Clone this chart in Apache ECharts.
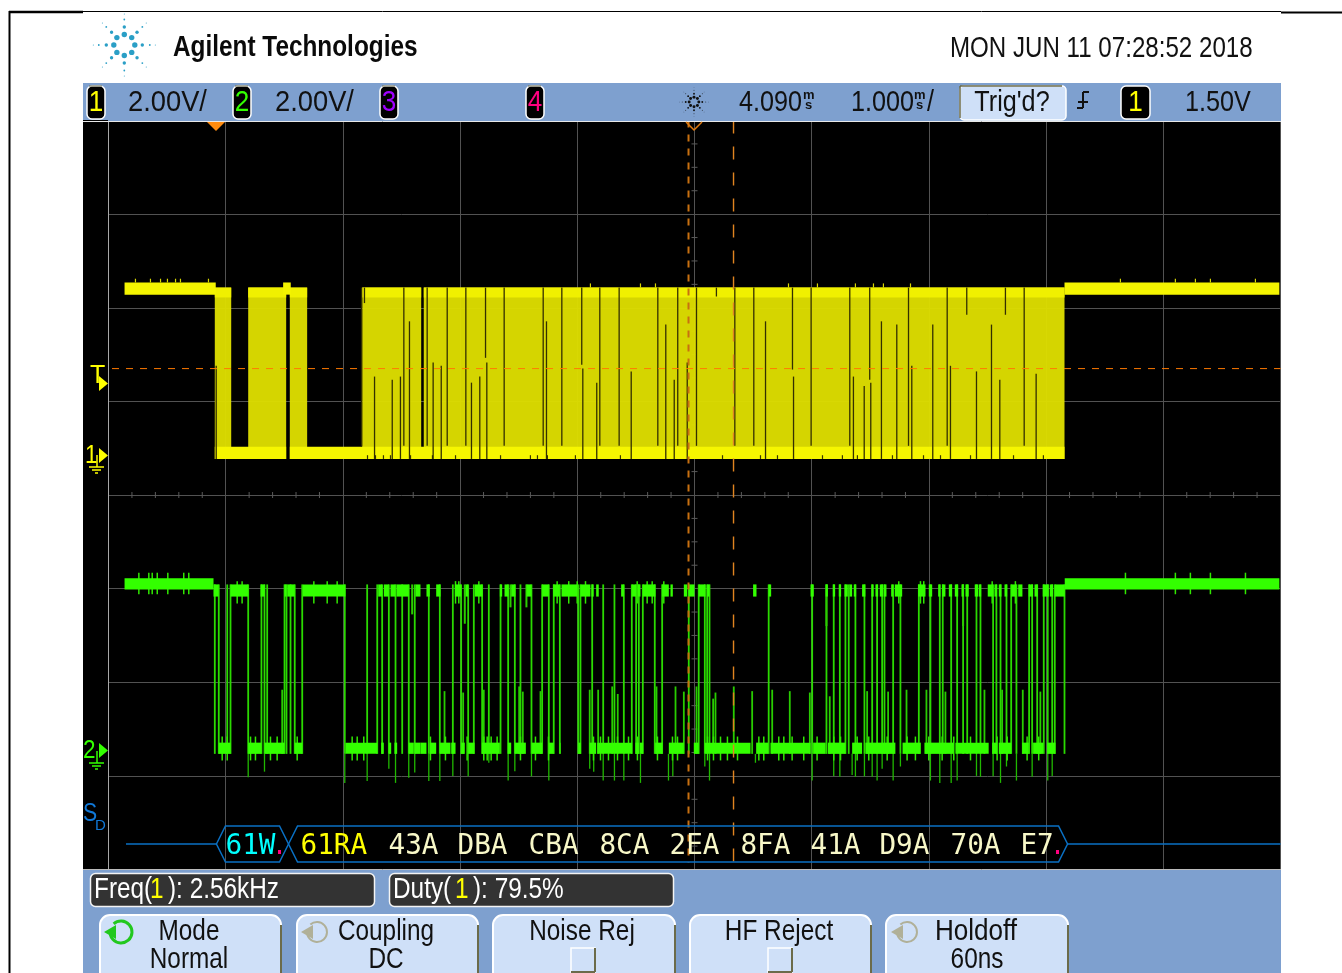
<!DOCTYPE html>
<html>
<head>
<meta charset="utf-8">
<title>Agilent scope capture</title>
<style>
html,body{margin:0;padding:0;background:#fff;}
#main{width:1342px;height:973px;}
</style>
<script src="https://cdn.jsdelivr.net/npm/echarts@6/dist/echarts.min.js"></script>
</head>
<body>
<div id="main"></div>
<script>
// all times are ms from the left edge of the screen, volts are per channel
var ch1PlateauSpans = [[0.137,0.915],[1.490,1.555],[8.157,9.990]];
var ch1BodySpans = [[0.907,1.047],[1.192,1.516],[1.547,1.695],[2.165,2.668],[2.690,8.157]];
var ch1LowSpans = [[0.907,1.516],[1.547,8.157]];
// dark gaps running the whole height of the burst
var ch1FullGaps = [2.159,2.520,2.719,2.890,3.049,3.376,3.709,3.868,4.192,4.357,4.687,4.857,5.017,5.344,5.506,5.995,6.325,6.826,7.156,7.813];
// [time, volts] hanging down from the top
var ch1HangGaps = [[2.184,3.20],[3.217,2.03],[4.038,1.88],[5.187,3.34],[5.836,1.78],[6.495,1.56],[7.323,2.95],[7.653,2.95]];
// [time, volts] rising from the bottom
var ch1RiseGaps = [[0.919,1.86],[2.270,1.63],[2.421,1.56],[2.491,1.63],[2.568,2.81],[2.770,1.93],[2.839,1.86],[3.097,1.50],[3.168,1.63],[3.228,1.93],[3.737,2.81],[4.047,1.80],[4.166,1.50],[4.460,1.74],[4.755,2.74],[4.827,1.56],[4.938,1.93],[5.606,2.81],[5.845,1.63],[6.356,1.63],[6.448,1.43],[6.504,1.50],[6.595,2.81],[6.726,2.74],[6.854,1.86],[7.033,2.74],[7.184,1.86],[7.406,1.74],[7.534,2.74],[7.605,1.56],[7.915,1.69]];
// small overshoots above the burst and the plateaus, notches under the low band
var ch1BurstSpikes = [4.112,4.539,4.667,5.802,6.049,6.373,6.527,6.612,6.843];
var ch1PlateauSpikes = [0.230,0.358,0.444,0.503,0.572,0.614,0.853,8.634,9.103,9.274,9.402,9.786];
var ch1LowNotches = [2.210,2.278,2.346,2.406,2.577,2.764,2.961,3.345,3.600,3.660,3.745,3.984,4.368,5.239,5.563,5.708,6.092,6.262,6.390,6.689,6.954,7.099,7.355,7.722,7.977];

var ch2PlateauSpans = [[0.137,0.896],[8.159,9.990]];
var ch2HighSpans = [[0.896,0.939],[1.041,1.192],[1.297,1.334],[1.502,1.519],[1.525,1.589],[1.658,2.022],[2.301,2.335],[2.349,2.392],[2.406,2.449],[2.457,2.562],[2.619,2.662],[2.713,2.741],[2.796,2.833],[2.955,3.009],[3.046,3.069],[3.125,3.191],[3.339,3.359],[3.379,3.413],[3.436,3.472],[3.566,3.609],[3.700,3.757],[3.794,3.851],[3.865,3.999],[4.027,4.112],[4.121,4.140],[4.161,4.183],[4.374,4.397],[4.465,4.502],[4.516,4.539],[4.559,4.667],[4.724,4.781],[4.795,4.815],[4.909,4.938],[4.951,5.000],[5.036,5.094],[5.108,5.128],[5.500,5.529],[5.633,5.654],[5.990,6.018],[6.119,6.138],[6.180,6.200],[6.231,6.251],[6.280,6.308],[6.322,6.345],[6.359,6.379],[6.430,6.458],[6.510,6.529],[6.544,6.567],[6.581,6.610],[6.615,6.638],[6.678,6.695],[6.709,6.772],[6.908,6.971],[6.999,7.028],[7.079,7.098],[7.113,7.141],[7.170,7.198],[7.221,7.250],[7.278,7.297],[7.312,7.340],[7.391,7.420],[7.425,7.446],[7.502,7.548],[7.559,7.582],[7.596,7.619],[7.645,7.668],[7.702,7.747],[7.762,7.798],[7.852,7.889],[7.901,7.929],[7.971,8.023],[8.031,8.060],[8.074,8.159]];
var ch2LowSpans = [[0.941,1.041],[1.192,1.305],[1.331,1.502],[1.589,1.653],[2.022,2.293],[2.327,2.349],[2.392,2.412],[2.440,2.463],[2.562,2.605],[2.611,2.662],[2.662,2.713],[2.741,2.796],[2.827,2.918],[2.924,2.961],[3.009,3.040],[3.069,3.123],[3.186,3.339],[3.407,3.436],[3.467,3.561],[3.609,3.700],[3.757,3.799],[3.851,3.857],[4.008,4.030],[4.104,4.161],[4.170,4.468],[4.496,4.525],[4.533,4.562],[4.664,4.727],[4.781,4.909],[4.994,5.036],[5.088,5.478],[5.526,5.629],[5.648,5.990],[6.012,6.119],[6.138,6.288],[6.345,6.430],[6.458,6.714],[6.775,6.931],[6.962,7.212],[7.226,7.510],[7.540,7.582],[7.596,7.702],[7.796,7.852],[7.889,7.975],[8.009,8.080]];
var ch2FullEdges = [0.907,0.941,1.013,1.041,1.192,1.305,1.331,1.354,1.502,1.519,1.553,1.589,1.653,2.016,2.207,2.293,2.335,2.392,2.449,2.506,2.562,2.613,2.733,2.827,2.938,3.009,3.069,3.117,3.188,3.245,3.345,3.410,3.467,3.515,3.609,3.700,3.757,3.799,3.851,4.008,4.027,4.127,4.221,4.317,4.397,4.465,4.502,4.525,4.559,4.661,4.724,4.951,5.036,5.088,5.108,5.128,5.633,6.004,6.126,6.188,6.240,6.288,6.316,6.373,6.450,6.516,6.558,6.601,6.621,6.695,6.757,6.914,7.013,7.093,7.118,7.190,7.241,7.292,7.327,7.406,7.440,7.548,7.576,7.611,7.662,7.702,7.747,7.855,7.881,7.924,7.980,8.014,8.052,8.074,8.157];
// [time, volts] undershoot below the low band
var ch2Dips = [[1.192,-0.63],[1.331,-0.51],[2.016,-0.75],[2.207,-0.71],[2.392,-0.45],[2.449,-0.75],[2.562,-0.64],[2.613,-0.53],[2.733,-0.71],[2.827,-0.71],[2.938,-0.60],[3.069,-0.61],[3.245,-0.32],[3.410,-0.70],[3.467,-0.50],[3.609,-0.61],[3.757,-0.70],[4.106,-0.45],[4.140,-0.51],[4.221,-0.70],[4.317,-0.70],[4.397,-0.70],[4.539,-0.75],[4.778,-0.70],[4.815,-0.61],[5.088,-0.40],[5.128,-0.70],[5.520,-0.32],[6.004,-0.70],[6.188,-0.60],[6.240,-0.62],[6.345,-0.58],[6.373,-0.62],[6.450,-0.61],[6.516,-0.62],[6.558,-0.70],[6.601,-0.45],[6.695,-0.70],[6.757,-0.40],[7.013,-0.70],[7.093,-0.75],[7.190,-0.75],[7.241,-0.70],[7.406,-0.60],[7.440,-0.62],[7.548,-0.61],[7.611,-0.75],[7.662,-0.40],[7.747,-0.70],[7.881,-0.62],[8.014,-0.70],[8.052,-0.60]];
// [time, volts] runts that only get part way up
var ch2Runts = [[1.482,1.24],[2.867,1.21],[3.026,1.18],[3.202,1.24],[3.504,1.31],[3.535,1.20],[3.686,1.21],[4.106,1.24],[4.178,1.24],[4.298,1.31],[4.345,1.15],[4.676,1.31],[4.838,1.31],[4.909,1.20],[5.017,1.31],[5.159,1.05],[5.179,1.18],[5.335,1.31],[5.492,1.21],[5.663,1.24],[5.813,1.21],[5.984,1.18],[6.154,1.10],[6.473,1.21],[6.652,1.20],[6.809,1.24],[6.979,1.24],[7.141,1.20],[7.474,1.24],[7.625,1.24],[7.801,1.24],[7.951,1.20]];
// [time, volts] pulled down from the high band
var ch2Sags = [[2.591,2.85],[3.040,2.65],[3.430,3.00],[3.566,3.00],[6.126,2.60],[7.292,2.60]];
// band fuzz
var ch2LowFuzz = [0.970,1.013,1.212,1.254,1.382,1.439,1.610,2.079,2.122,2.178,2.747,2.875,3.060,3.202,3.231,3.265,3.316,3.515,3.643,3.754,4.138,4.198,4.266,4.343,4.437,4.513,4.684,4.812,4.855,5.111,5.162,5.222,5.281,5.367,5.549,5.591,5.719,5.762,5.833,5.932,6.046,6.188,6.246,6.388,6.487,6.644,6.814,6.885,6.999,7.113,7.212,7.355,7.582,7.668,7.838,7.937];
var ch2HighFuzz = [1.098,1.140,1.752,1.866,1.951,2.961,2.989,3.160,3.828,3.927,3.999,4.070,4.511,4.596,4.639,4.738,6.743,6.928,6.956,7.540,7.738];
var ch2PlateauFuzz = [0.259,0.344,0.373,0.416,0.506,0.642,0.685,8.677,9.103,9.231,9.402,9.701];

// levels
var ch1Top = 3.53, ch1TopBand = 3.32, ch1LowTop = 0.13, ch1LowBottom = -0.13, ch1PlateauHi = 3.64, ch1PlateauLo = 3.38;
var ch2HighHi = 3.49, ch2HighLo = 3.23, ch2LowHi = 0.11, ch2LowLo = -0.13, ch2PlateauHi = 3.62, ch2PlateauLo = 3.38;
var trigLineVolts = 1.80;
var trigLineSpan = [0.03, 10];
var cursorTimes = [4.949,5.333];
var decodeWords = ['61W','61RA','43A','DBA','CBA','8CA','2EA','8FA','41A','D9A','70A','E7'];
var decodeStarts = [0.998,1.638,2.389,2.978,3.584,4.189,4.787,5.392,5.990,6.578,7.184,7.781];
var decodeColors = ['#00ffff','#ffff00','#f8f8c8','#f8f8c8','#f8f8c8','#f8f8c8','#f8f8c8','#f8f8c8','#f8f8c8','#f8f8c8','#f8f8c8','#f8f8c8'];
var decodeFrames = [[0.921,1.536],[1.536,8.183]];
var busTails = [[0.149,0.921],[8.183,10]];
var busLevel = 0.272;

var NARROW = '"Liberation Sans",sans-serif';
var BLUE = '#7ea0cf';
var KEY = '#cfe0f8';
var OLIVE = '#6b6b4a';

function spans(list, lo, hi) {
	return list.map(function (s) { return [s[0], s[1], lo, hi]; });
}
function ticks(list, lo, hi) {
	return list.map(function (t) { return [t, lo, hi]; });
}
function bands(name, rows, color, axis, z) {
	return {
		name: name, type: 'custom', xAxisIndex: 0, yAxisIndex: axis, z: z, silent: true, animation: false,
		encode: { x: [0, 1], y: [2, 3] },
		data: rows,
		renderItem: function (p, api) {
			var a = api.coord([api.value(0), api.value(3)]);
			var b = api.coord([api.value(1), api.value(2)]);
			return { type: 'rect', shape: { x: a[0], y: a[1], width: b[0] - a[0], height: b[1] - a[1] }, style: { fill: color } };
		}
	};
}
function lines(name, rows, color, width, axis, z, dash) {
	return {
		name: name, type: 'custom', xAxisIndex: 0, yAxisIndex: axis, z: z, silent: true, animation: false,
		encode: { x: 0, y: [1, 2] },
		data: rows,
		renderItem: function (p, api) {
			var a = api.coord([api.value(0), api.value(2)]);
			var b = api.coord([api.value(0), api.value(1)]);
			return { type: 'line', shape: { x1: a[0], y1: a[1], x2: b[0], y2: b[1] }, style: { stroke: color, lineWidth: width, lineDash: dash || null } };
		}
	};
}
function hline(name, span, level, color, width, axis, z, dash) {
	return {
		name: name, type: 'custom', xAxisIndex: 0, yAxisIndex: axis, z: z, silent: true, animation: false,
		data: span,
		renderItem: function (p, api) {
			var a = api.coord([api.value(0), level]);
			var b = api.coord([api.value(1), level]);
			return { type: 'line', shape: { x1: a[0], y1: a[1], x2: b[0], y2: b[1] }, style: { stroke: color, lineWidth: width, lineDash: dash || null } };
		}
	};
}

// centre graticule ticks
var xTickRows = [], yTickRows = [];
for (var i = 0; i <= 50; i++) { if (i % 5) xTickRows.push([i / 5, 4]); }
for (var j = 0; j <= 32; j++) { if (j % 4) yTickRows.push([5, j / 4]); }

// ---- chrome helpers, pixel layout of the instrument screen
function txt(s, x, y, size, color, align, bold, sx) {
	// big text sits a little high in this font
	return {
		type: 'text', z: 102, silent: true, x: x, y: size >= 29 ? y + 2 : y, scaleX: sx || 0.84,
		style: { text: s, x: 0, y: 0, font: (bold ? 'bold ' : '') + size + 'px ' + NARROW, fill: color || '#111', align: align || 'left', verticalAlign: 'middle' }
	};
}
function box(x, y, w, h, fill, r, stroke, lw) {
	return { type: 'rect', z: 99, silent: true, shape: { x: x, y: y, width: w, height: h, r: r || 0 }, style: { fill: fill, stroke: stroke || null, lineWidth: lw || 1 } };
}
function seg(x1, y1, x2, y2, color, lw) {
	return { type: 'line', z: 100, silent: true, shape: { x1: x1, y1: y1, x2: x2, y2: y2 }, style: { stroke: color, lineWidth: lw || 1 } };
}
function tri(points, fill, stroke) {
	return { type: 'polygon', z: 101, silent: true, shape: { points: points }, style: { fill: fill, stroke: stroke || null } };
}
function badge(x, w, label, color) {
	return [box(x, 86, w, 33, '#000', 5, '#fff', 1.5), seg(x + 2, 86, x + w - 3, 86, OLIVE, 1), txt(label, x + w / 2, 101, 29, color, 'center', false, 0.9)];
}
function softKey(x, w) {
	return [
		box(x, 915, w, 70, KEY, 10, '#fff', 2),
		seg(x + w, 925, x + w, 973, OLIVE, 2)
	];
}
function check(x) {
	return [box(x, 948, 24, 24, KEY, 0, '#fff', 1.5), seg(x + 24, 948, x + 24, 972, OLIVE, 2), seg(x, 972, x + 24, 972, OLIVE, 2)];
}
function spin(cx, cy, color, r, lw) {
	return [
		{ type: 'arc', z: 101, silent: true, shape: { cx: cx, cy: cy, r: r, startAngle: -2.3, endAngle: 2.9, clockwise: true }, style: { stroke: color, lineWidth: lw, fill: 'none' } },
		tri([[cx - r - 6, cy], [cx - r + 6, cy - 7], [cx - r + 6, cy + 7]], color)
	];
}
function burst(cx, cy, k, color) {
	var out = [];
	var rings = [[10.5, 2.7], [18, 1.7], [25.5, 0.9], [31, 0.5]];
	for (var n = 0; n < 8; n++) {
		var ang = n * Math.PI / 4;
		for (var m = 0; m < rings.length; m++) {
			out.push({ type: 'circle', z: 101, silent: true, shape: { cx: cx + Math.cos(ang) * rings[m][0] * k, cy: cy + Math.sin(ang) * rings[m][0] * k, r: rings[m][1] * Math.max(k, 0.55) }, style: { fill: color } });
		}
	}
	return out;
}

var chrome = [].concat(
	// page frame
	seg(9.5, 11, 9.5, 973, '#000', 2),
	seg(9, 12, 83, 12, '#000', 2.4),
	seg(83, 11.5, 1281, 11.5, '#000', 1),
	seg(1281, 12.5, 1342, 12.5, '#000', 2),
	burst(124.3, 45, 1, '#2a9fc6'),
	txt('Agilent Technologies', 173, 46, 29, '#0a0a0a', 'left', true, 0.84),
	txt('MON JUN 11 07:28:52 2018', 950, 47, 29, '#111', 'left', false, 0.832),
	// top status bar
	box(83, 83, 1198, 38, BLUE),
	seg(83, 121.5, 1281, 121.5, '#e8e8e8', 1),
	badge(87, 18, '1', '#ffff00'),
	txt('2.00V/', 128, 101, 30, '#111', 'left', false, 0.91),
	badge(233, 18, '2', '#33ff00'),
	txt('2.00V/', 275, 101, 30, '#111', 'left', false, 0.91),
	badge(380, 18, '3', '#a000ff'),
	badge(526, 18, '4', '#ff0080'),
	burst(694, 102, 0.46, '#111'),
	txt('4.090', 739, 101, 30),
	txt('m', 803, 95, 13, '#111', 'left', true, 1),
	txt('s', 805, 105, 13, '#111', 'left', true, 1),
	txt('1.000', 851, 101, 30),
	txt('m', 914, 95, 13, '#111', 'left', true, 1),
	txt('s', 916, 105, 13, '#111', 'left', true, 1),
	txt('/', 927, 101, 30),
	box(960, 86, 106, 34, KEY, 4, '#fff', 1.5),
	seg(960, 86, 960, 118, OLIVE, 1.5),
	seg(960, 86, 1062, 86, OLIVE, 1.5),
	txt("Trig'd?", 1012, 101, 30, '#111', 'center'),
	seg(1083, 92, 1083, 108, '#111', 2),
	seg(1083, 92, 1089, 92, '#111', 2),
	seg(1077, 108, 1083, 108, '#111', 2),
	seg(1078, 102, 1088, 102, '#111', 2),
	box(1121, 86, 29, 33, '#000', 5, '#fff', 1.5),
	txt('1', 1135.5, 101, 29, '#ffff00', 'center', false, 0.9),
	txt('1.50V', 1185, 101, 30),
	// left strip of the screen
	box(83, 120, 25, 749, '#000'),
	txt('T', 90, 376, 25, '#ffff00', 'left', false, 1),
	tri([[99, 376], [108, 383.5], [99, 391]], '#ffff00'),
	txt('1', 85, 456, 25, '#ffff00', 'left', false, 0.9),
	tri([[99, 448], [108, 455.5], [99, 463]], '#ffff00'),
	seg(97, 455, 97, 467, '#ffff00', 1.5),
	seg(89, 467, 104, 467, '#ffff00', 1.5),
	seg(92, 470, 101, 470, '#ffff00', 1.5),
	seg(95, 473, 98, 473, '#ffff00', 1.5),
	txt('2', 83, 751, 25, '#33ff00', 'left', false, 0.9),
	tri([[99, 743], [108, 750.5], [99, 758]], '#33ff00'),
	seg(97, 751, 97, 763, '#33ff00', 1.5),
	seg(89, 763, 104, 763, '#33ff00', 1.5),
	seg(92, 766, 101, 766, '#33ff00', 1.5),
	seg(95, 769, 98, 769, '#33ff00', 1.5),
	txt('S', 83, 814, 25, '#1078d8', 'left', false, 0.85),
	txt('D', 95, 826, 15, '#1078d8', 'left', false, 1),
	// horizontal position markers
	tri([[207, 122], [225, 122], [216, 131]], '#ff8c10'),
	{ type: 'polyline', z: 101, silent: true, shape: { points: [[686, 122], [694, 130], [702, 122]] }, style: { stroke: '#e07a10', lineWidth: 1.5, fill: 'none' } },
	// bottom panel
	box(83, 870, 1198, 103, BLUE),
	seg(83, 869.5, 1281, 869.5, '#bbb', 1),
	box(90.5, 873.5, 284, 33, '#333', 5, '#f4f4f4', 1.5),
	txt('Freq(', 94, 888, 29, '#fff'),
	txt('1', 150, 888, 29, '#ffff00'),
	txt('): 2.56kHz', 168, 888, 29, '#fff'),
	box(389.5, 873.5, 284, 33, '#333', 5, '#f4f4f4', 1.5),
	txt('Duty(', 393, 888, 29, '#fff'),
	txt('1', 455, 888, 29, '#ffff00'),
	txt('): 79.5%', 473, 888, 29, '#fff'),
	softKey(100, 181), softKey(297, 181), softKey(493, 182), softKey(690, 181), softKey(886, 182),
	spin(121, 932, '#22c81e', 11, 3),
	txt('Mode', 189, 930, 29, '#111', 'center'),
	txt('Normal', 189, 958, 29, '#111', 'center'),
	spin(317, 932, '#b0b098', 10, 2),
	txt('Coupling', 386, 930, 29, '#111', 'center'),
	txt('DC', 386, 958, 29, '#111', 'center'),
	txt('Noise Rej', 582, 930, 29, '#111', 'center'),
	check(571),
	txt('HF Reject', 779, 930, 29, '#111', 'center'),
	check(768),
	spin(907, 932, '#b0b098', 10, 2),
	txt('Holdoff', 976, 930, 29, '#111', 'center', false, 0.9),
	txt('60ns', 977, 958, 29, '#111', 'center'),
	box(278, 850, 3, 4, '#ff0080'),
	box(1056, 850, 3, 4, '#ff0080')
);

var myChart = echarts.init(document.getElementById('main'));
myChart.setOption({
	animation: false,
	backgroundColor: '#ffffff',
	grid: { left: 108.5, top: 120.5, width: 1172, height: 749, show: true, backgroundColor: '#000', borderWidth: 0 },
	xAxis: {
		type: 'value', min: 0, max: 10, interval: 1,
		axisLine: { show: false }, axisTick: { show: false }, axisLabel: { show: false },
		splitLine: { show: true, lineStyle: { color: '#525252', width: 1 } }
	},
	yAxis: [
		{
			type: 'value', min: 0, max: 8, interval: 1, position: 'left',
			axisLine: { show: true, onZero: false, lineStyle: { color: '#a8a8a8' } }, axisTick: { show: false }, axisLabel: { show: false },
			splitLine: { show: true, lineStyle: { color: '#525252', width: 1 } }
		},
		{ type: 'value', min: -8.90, max: 7.10, show: false, splitLine: { show: false } },
		{ type: 'value', min: -2.60, max: 13.40, show: false, splitLine: { show: false } }
	],
	graphic: { elements: chrome },
	series: [
		// centre ticks
		{
			name: 'x ticks', type: 'custom', yAxisIndex: 0, z: 1, silent: true, data: xTickRows,
			renderItem: function (p, api) {
				var c = api.coord([api.value(0), api.value(1)]);
				return { type: 'line', shape: { x1: c[0], y1: c[1] - 3, x2: c[0], y2: c[1] + 3 }, style: { stroke: '#5a5a5a', lineWidth: 1 } };
			}
		},
		{
			name: 'y ticks', type: 'custom', yAxisIndex: 0, z: 1, silent: true, data: yTickRows,
			renderItem: function (p, api) {
				var c = api.coord([api.value(0), api.value(1)]);
				return { type: 'line', shape: { x1: c[0] - 3, y1: c[1], x2: c[0] + 3, y2: c[1] }, style: { stroke: '#5a5a5a', lineWidth: 1 } };
			}
		},
		// channel 1
		bands('ch1 burst', spans(ch1BodySpans, ch1LowBottom, ch1Top), 'rgba(222,222,0,0.96)', 1, 3),
		bands('ch1 top band', spans(ch1BodySpans, ch1TopBand, ch1Top), '#f0f000', 1, 4),
		bands('ch1 low band', spans(ch1LowSpans, ch1LowBottom, ch1LowTop), '#f6f600', 1, 4),
		bands('ch1 plateau', spans(ch1PlateauSpans, ch1PlateauLo, ch1PlateauHi), '#f4f400', 1, 4),
		lines('ch1 burst spikes', ticks(ch1BurstSpikes, ch1Top, 3.62), '#d8d800', 1.2, 1, 4),
		lines('ch1 plateau spikes', ticks(ch1PlateauSpikes, ch1PlateauHi, 3.72), '#d8d800', 1.2, 1, 4),
		lines('ch1 notches', ticks(ch1LowNotches, ch1LowBottom, -0.05), '#3a3600', 1.2, 1, 5),
		lines('ch1 gaps', ch1FullGaps.map(function (t) { return [t, ch1LowTop + 0.02, ch1Top]; }), '#332f00', 1.3, 1, 5),
		lines('ch1 hang', ch1HangGaps.map(function (g) { return [g[0], g[1], ch1Top]; }), '#332f00', 1.3, 1, 5),
		lines('ch1 rise', ch1RiseGaps.map(function (g) { return [g[0], ch1LowBottom, g[1]]; }), '#332f00', 1.3, 1, 5),
		// channel 2
		lines('ch2 edges', ticks(ch2FullEdges, ch2LowLo, ch2HighHi), '#2ada00', 1.8, 2, 6),
		lines('ch2 dips', ch2Dips.map(function (g) { return [g[0], g[1], ch2LowLo]; }), '#20b800', 1.3, 2, 6),
		lines('ch2 runts', ch2Runts.map(function (g) { return [g[0], ch2LowLo, g[1]]; }), '#28cc00', 1.8, 2, 6),
		lines('ch2 sags', ch2Sags.map(function (g) { return [g[0], g[1], ch2HighHi]; }), '#2ccc00', 2, 2, 6),
		lines('ch2 low fuzz', ticks(ch2LowFuzz, -0.27, 0.24), '#30e800', 1.5, 2, 6),
		lines('ch2 high fuzz', ticks(ch2HighFuzz, 3.08, 3.56), '#30e800', 1.5, 2, 6),
		lines('ch2 plateau fuzz', ticks(ch2PlateauFuzz, 3.28, 3.74), '#30e800', 1.5, 2, 6),
		bands('ch2 high', spans(ch2HighSpans, ch2HighLo, ch2HighHi), '#33ff00', 2, 7),
		bands('ch2 low', spans(ch2LowSpans, ch2LowLo, ch2LowHi), '#33ff00', 2, 7),
		bands('ch2 plateau', spans(ch2PlateauSpans, ch2PlateauLo, ch2PlateauHi), '#33ff00', 2, 7),
		// trigger level and cursors
		hline('trigger level', [trigLineSpan], trigLineVolts, '#ff7a00', 1, 1, 8, [7, 7]),
		lines('cursor a', [[cursorTimes[0], 0.07, 8]], '#c87010', 2, 0, 8, [7, 7]),
		lines('cursor b', [[cursorTimes[1], 0.07, 8]], '#e08420', 1.4, 0, 8, [13, 13]),
		// serial decode bus
		hline('bus tails', busTails, busLevel, '#0a70c4', 1.5, 0, 9),
		{
			name: 'bus frames', type: 'custom', yAxisIndex: 0, z: 9, silent: true, data: decodeFrames,
			renderItem: function (p, api) {
				var a = api.coord([api.value(0), busLevel]);
				var b = api.coord([api.value(1), busLevel]);
				var pts = [[a[0], a[1]], [a[0] + 9, a[1] - 18], [b[0] - 9, b[1] - 18], [b[0], b[1]], [b[0] - 9, b[1] + 18], [a[0] + 9, a[1] + 18]];
				return { type: 'polygon', shape: { points: pts }, style: { stroke: '#0a70c4', lineWidth: 1.5, fill: 'none' } };
			}
		},
		{
			name: 'decode', type: 'custom', yAxisIndex: 0, z: 10, silent: true,
			data: decodeStarts.map(function (t, n) { return [t, n]; }),
			renderItem: function (p, api) {
				var n = api.value(1);
				var c = api.coord([api.value(0), busLevel]);
				return { type: 'text', style: { text: decodeWords[n], x: c[0], y: c[1] + 3, fill: decodeColors[n], font: '27.7px "DejaVu Sans Mono"', align: 'left', verticalAlign: 'middle' } };
			}
		}
	]
});
</script>
</body>
</html>
